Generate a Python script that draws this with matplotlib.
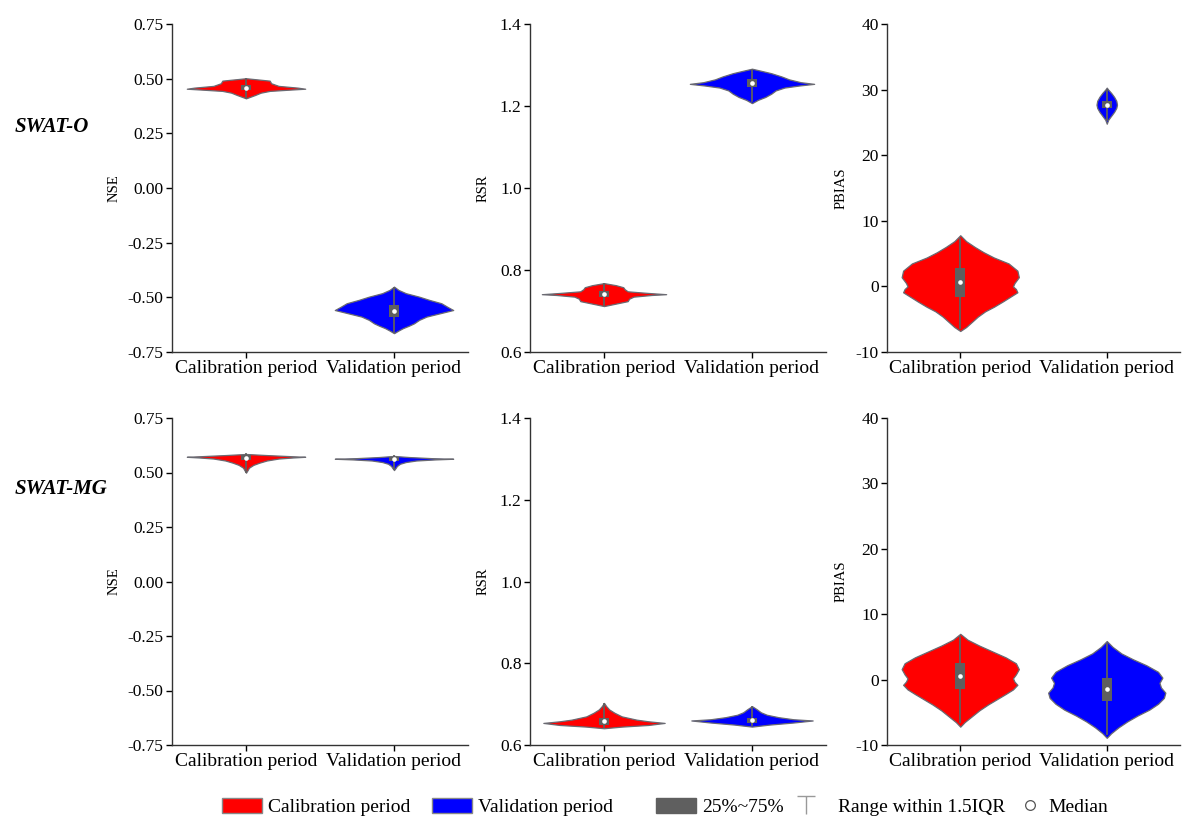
import matplotlib
matplotlib.use('Agg')
import matplotlib.pyplot as plt
from matplotlib.patches import Patch
from matplotlib.lines import Line2D
from matplotlib.path import Path

plt.rcParams['font.family'] = ['Liberation Serif', 'DejaVu Serif']

categories = ['Calibration period', 'Validation period']
models = ['SWAT-O', 'SWAT-MG']
metrics = ['NSE', 'RSR', 'PBIAS']

# violin outlines: y values and half widths (category units)
# box stats: [q1, median, q3, whisker low, whisker high]
nse_o_cal_y = [0.410, 0.425, 0.436, 0.444, 0.450, 0.454, 0.459, 0.467, 0.479, 0.491, 0.502]
nse_o_cal_w = [0.00, 0.06, 0.10, 0.16, 0.30, 0.40, 0.35, 0.22, 0.17, 0.16, 0.00]
nse_o_cal_box = [0.447, 0.456, 0.470, 0.412, 0.500]

nse_o_val_y = [-0.664, -0.652, -0.641, -0.630, -0.619, -0.603, -0.588, -0.573, -0.558,
               -0.543, -0.527, -0.512, -0.497, -0.481, -0.466, -0.451]
nse_o_val_w = [0.00, 0.03, 0.06, 0.10, 0.135, 0.17, 0.22, 0.31, 0.40,
               0.36, 0.32, 0.24, 0.17, 0.08, 0.03, 0.00]
nse_o_val_box = [-0.590, -0.562, -0.537, -0.660, -0.456]

rsr_o_cal_y = [0.712, 0.718, 0.724, 0.730, 0.735, 0.739, 0.741, 0.744, 0.748, 0.753, 0.758, 0.763, 0.768]
rsr_o_cal_w = [0.00, 0.08, 0.16, 0.17, 0.20, 0.32, 0.42, 0.30, 0.16, 0.14, 0.13, 0.08, 0.00]
rsr_o_cal_box = [0.734, 0.741, 0.749, 0.715, 0.765]

rsr_o_val_y = [1.207, 1.215, 1.222, 1.230, 1.238, 1.245, 1.250, 1.254, 1.258, 1.265, 1.272, 1.280, 1.286, 1.291]
rsr_o_val_w = [0.00, 0.04, 0.09, 0.13, 0.16, 0.22, 0.32, 0.42, 0.33, 0.25, 0.20, 0.13, 0.06, 0.00]
rsr_o_val_box = [1.247, 1.255, 1.266, 1.212, 1.288]

pbias_o_cal_y = [-6.8, -6.2, -5.4, -4.6, -3.8, -3.1, -2.3, -1.6, -0.9, -0.4, 0.0, 0.5,
                 1.4, 2.4, 3.5, 4.4, 5.2, 6.0, 6.9, 7.8]
pbias_o_cal_w = [0.00, 0.04, 0.08, 0.12, 0.17, 0.23, 0.29, 0.34, 0.39, 0.38, 0.36, 0.37,
                 0.40, 0.39, 0.33, 0.23, 0.16, 0.10, 0.04, 0.00]
pbias_o_cal_box = [-1.6, 0.65, 2.8, -6.3, 7.3]

pbias_o_val_y = [24.8, 25.4, 26.0, 26.6, 27.2, 27.7, 28.3, 28.9, 29.5, 30.0, 30.3]
pbias_o_val_w = [0.00, 0.01, 0.03, 0.05, 0.065, 0.07, 0.065, 0.05, 0.03, 0.01, 0.00]
pbias_o_val_box = [27.2, 27.7, 28.3, 25.3, 30.0]

nse_mg_cal_y = [0.499, 0.510, 0.522, 0.535, 0.545, 0.555, 0.564, 0.569, 0.572, 0.575, 0.580, 0.585]
nse_mg_cal_w = [0.00, 0.01, 0.02, 0.05, 0.09, 0.14, 0.22, 0.32, 0.40, 0.30, 0.14, 0.00]
nse_mg_cal_box = [0.556, 0.568, 0.578, 0.503, 0.584]

nse_mg_val_y = [0.511, 0.520, 0.530, 0.540, 0.548, 0.555, 0.560, 0.563, 0.566, 0.571, 0.576]
nse_mg_val_w = [0.00, 0.01, 0.02, 0.04, 0.08, 0.15, 0.28, 0.40, 0.25, 0.10, 0.00]
nse_mg_val_box = [0.554, 0.563, 0.570, 0.515, 0.575]

rsr_mg_cal_y = [0.641, 0.645, 0.649, 0.654, 0.658, 0.662, 0.670, 0.679, 0.687, 0.695, 0.703]
rsr_mg_cal_w = [0.00, 0.12, 0.30, 0.41, 0.30, 0.22, 0.12, 0.07, 0.035, 0.015, 0.00]
rsr_mg_cal_box = [0.649, 0.658, 0.665, 0.643, 0.700]

rsr_mg_val_y = [0.645, 0.650, 0.655, 0.660, 0.663, 0.668, 0.674, 0.680, 0.688, 0.695]
rsr_mg_val_w = [0.00, 0.12, 0.28, 0.41, 0.28, 0.18, 0.10, 0.06, 0.03, 0.00]
rsr_mg_val_box = [0.655, 0.661, 0.667, 0.648, 0.693]

pbias_mg_cal_y = [-7.2, -6.5, -5.6, -4.7, -3.8, -3.0, -2.2, -1.5, -0.8, -0.3, 0.2, 0.8,
                  1.6, 2.5, 3.4, 4.3, 5.2, 6.1, 7.0]
pbias_mg_cal_w = [0.00, 0.03, 0.08, 0.13, 0.19, 0.25, 0.31, 0.36, 0.39, 0.37, 0.36, 0.38,
                  0.40, 0.38, 0.31, 0.22, 0.13, 0.05, 0.00]
pbias_mg_cal_box = [-1.5, 0.6, 2.5, -6.5, 6.5]

pbias_mg_val_y = [-8.9, -8.2, -7.3, -6.4, -5.5, -4.6, -3.7, -2.8, -2.0, -1.2, -0.5, 0.3,
                  1.2, 2.2, 3.1, 4.0, 5.0, 5.9]
pbias_mg_val_w = [0.00, 0.03, 0.08, 0.14, 0.21, 0.29, 0.35, 0.39, 0.40, 0.37, 0.36, 0.38,
                  0.35, 0.27, 0.18, 0.10, 0.04, 0.00]
pbias_mg_val_box = [-3.3, -1.4, 0.2, -8.3, 5.5]

nse_ticks = [-0.75, -0.50, -0.25, 0.00, 0.25, 0.50, 0.75]
rsr_ticks = [0.6, 0.8, 1.0, 1.2, 1.4]
pbias_ticks = [-10, 0, 10, 20, 30, 40]

panels = {
    ('SWAT-O', 'NSE'): [(nse_o_cal_y, nse_o_cal_w, nse_o_cal_box), (nse_o_val_y, nse_o_val_w, nse_o_val_box)],
    ('SWAT-O', 'RSR'): [(rsr_o_cal_y, rsr_o_cal_w, rsr_o_cal_box), (rsr_o_val_y, rsr_o_val_w, rsr_o_val_box)],
    ('SWAT-O', 'PBIAS'): [(pbias_o_cal_y, pbias_o_cal_w, pbias_o_cal_box), (pbias_o_val_y, pbias_o_val_w, pbias_o_val_box)],
    ('SWAT-MG', 'NSE'): [(nse_mg_cal_y, nse_mg_cal_w, nse_mg_cal_box), (nse_mg_val_y, nse_mg_val_w, nse_mg_val_box)],
    ('SWAT-MG', 'RSR'): [(rsr_mg_cal_y, rsr_mg_cal_w, rsr_mg_cal_box), (rsr_mg_val_y, rsr_mg_val_w, rsr_mg_val_box)],
    ('SWAT-MG', 'PBIAS'): [(pbias_mg_cal_y, pbias_mg_cal_w, pbias_mg_cal_box), (pbias_mg_val_y, pbias_mg_val_w, pbias_mg_val_box)],
}
ticks = {'NSE': (nse_ticks, '%.2f'), 'RSR': (rsr_ticks, '%.1f'), 'PBIAS': (pbias_ticks, '%d')}

colors = ['#FF0000', '#0000FF']
edge = '#6a6a72'
box_col = '#5f5f5f'

W, H = 1188, 818
col_left = [172, 530, 887]
col_width = [296, 296, 293]
row_top = [24, 418]
row_height = [328, 327]
label_x = {'NSE': -0.172, 'RSR': -0.135, 'PBIAS': -0.133}

fig = plt.figure(figsize=(W / 100, H / 100), dpi=100)

for r, model in enumerate(models):
    for c, metric in enumerate(metrics):
        ax = fig.add_axes([col_left[c] / W, 1 - (row_top[r] + row_height[r]) / H,
                           col_width[c] / W, row_height[r] / H])
        for i, (ys, ws, box) in enumerate(panels[(model, metric)]):
            left = [i - w for w in ws]
            right = [i + w for w in ws]
            ax.fill_betweenx(ys, left, right, facecolor=colors[i], edgecolor=edge, linewidth=0.9, zorder=2)
            q1, med, q3, lo, hi = box
            ax.plot([i, i], [lo, hi], color=box_col, linewidth=1.3, zorder=3)
            ax.bar(i, q3 - q1, bottom=q1, width=0.07, color=box_col, zorder=4)
            ax.scatter([i], [med], s=11, color='white', zorder=5, linewidths=0)
        tk, fmt = ticks[metric]
        ax.set_ylim(tk[0], tk[-1])
        ax.set_yticks(tk)
        ax.set_yticklabels([fmt % t for t in tk])
        ax.set_xlim(-0.5, 1.5)
        ax.set_xticks([0, 1])
        ax.set_xticklabels(categories)
        ax.set_ylabel(metric, fontsize=10.5)
        ax.yaxis.set_label_coords(label_x[metric], 0.5)
        ax.tick_params(axis='y', labelsize=12.5, length=4, width=1, pad=2)
        ax.tick_params(axis='x', labelsize=14, length=4, width=1, pad=2)
        for s in ['top', 'right']:
            ax.spines[s].set_visible(False)
        for s in ['left', 'bottom']:
            ax.spines[s].set_linewidth(1)
            ax.spines[s].set_color('#333333')

fig.text(15 / W, 1 - 127 / H, 'SWAT-O', fontsize=15, fontweight='bold', fontstyle='italic', va='center')
fig.text(15 / W, 1 - 489 / H, 'SWAT-MG', fontsize=15, fontweight='bold', fontstyle='italic', va='center')

# legend row along the bottom
whisker = Path([(-1, 1), (1, 1), (0, 1), (0, -1)],
               [Path.MOVETO, Path.LINETO, Path.MOVETO, Path.LINETO])
legend_items = [
    (Patch(facecolor=colors[0], edgecolor='#888888'), 'Calibration period', 222, 2.06),
    (Patch(facecolor=colors[1], edgecolor='#888888'), 'Validation period', 432, 2.06),
    (Patch(facecolor=box_col, edgecolor=box_col), '25%~75%', 656, 2.06),
    (Line2D([], [], color='#999999', marker=whisker, markersize=13, markeredgewidth=1,
            linestyle='none'), 'Range within 1.5IQR', 780, 2.68),
    (Line2D([], [], color='#555555', marker='o', markersize=7, markerfacecolor='white',
            markeredgewidth=0.9, linestyle='none'), 'Median', 1018, 1.24),
]
for h, lab, x, hl in legend_items:
    fig.legend(handles=[h], labels=[lab], loc='center left', bbox_to_anchor=(x / W, 1 - 807 / H),
               frameon=False, borderpad=0, borderaxespad=0, handletextpad=0.3,
               handlelength=hl, handleheight=0.82, fontsize=14)

fig.savefig('out.png', dpi=100)
